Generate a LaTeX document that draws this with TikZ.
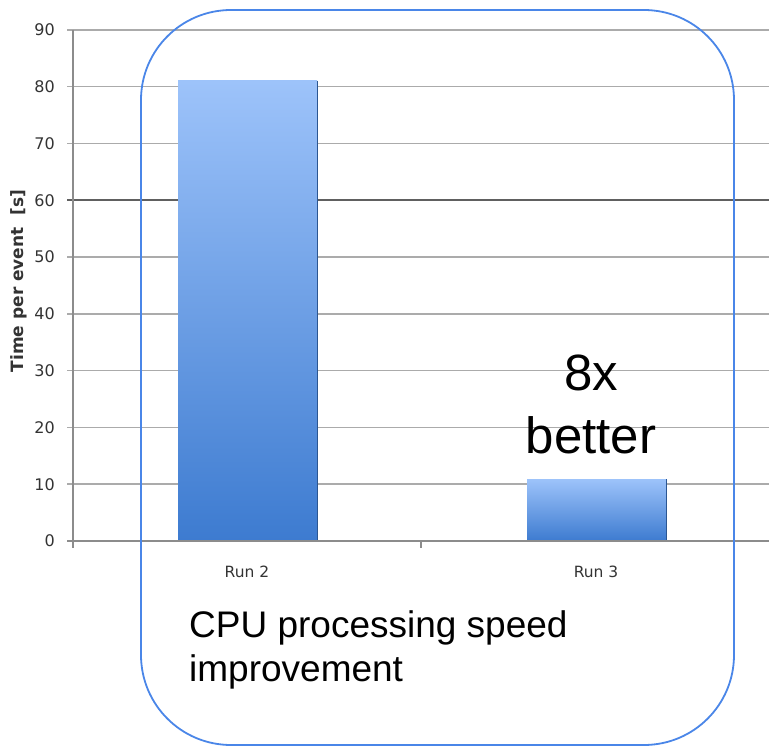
\documentclass[tikz,border=0pt]{standalone}
\usepackage{fontspec}
\setmainfont{Liberation Sans}
\newfontfamily\chartfont{DejaVu Sans}
\definecolor{frameblue}{HTML}{4A86E8}
\definecolor{gridgray}{HTML}{ABABAB}
\definecolor{axisgray}{HTML}{8C8C8C}
\definecolor{bartop}{HTML}{9DC3FA}
\definecolor{barbottom}{HTML}{3D7BD0}
\definecolor{labelgray}{HTML}{333333}
\begin{document}
\begin{tikzpicture}[x=1pt,y=-1pt,
  grid/.style={draw=gridgray,line width=1.6pt},
  axis/.style={draw=axisgray,line width=1.6pt},
  ticklabel/.style={anchor=east,text=labelgray,font=\chartfont\fontsize{16}{18}\selectfont,inner sep=0pt},
  catlabel/.style={anchor=base,text=labelgray,font=\chartfont\fontsize{15.5}{17}\selectfont,inner sep=0pt},
  bigtext/.style={anchor=base,font=\fontsize{51}{60}\selectfont,inner sep=0pt},
  captext/.style={anchor=base west,font=\fontsize{37}{44}\selectfont,inner sep=0pt},
  frame/.style={draw=frameblue,line width=1.8pt,rounded corners=90pt}
]
\useasboundingbox (0,0) rectangle (769,746);
% gridlines
\foreach \v in {1,...,9}{
  \pgfmathsetmacro\yy{541-56.8*\v}
  \draw[grid] (67,\yy) -- (769,\yy);
}
\draw[draw=gray!75!black,line width=1.6pt] (67,{541-56.8*6}) -- (769,{541-56.8*6});
% tick labels
\foreach \v in {0,...,9}{
  \pgfmathsetmacro\yy{541-56.8*\v}
  \node[ticklabel] (t\v) at (55,\yy) {\pgfmathprint{int(10*\v)}};
}
% bars
\shade[top color=bartop,bottom color=barbottom] (178,81) rectangle (317,541);
\draw[barbottom!70!black,line width=0.8pt] (317,81) -- (317,541);
\shade[top color=bartop,bottom color=barbottom] (527,479) rectangle (666,541);
\draw[barbottom!70!black,line width=0.8pt] (666,479) -- (666,541);
% axes
\draw[axis] (67,541) -- (769,541);
\draw[axis] (73,30) -- (73,548);
\draw[axis] (421,541) -- (421,548);
% category labels
\node[catlabel] (r2) at (247,577) {Run 2};
\node[catlabel] (r3) at (596,577) {Run 3};
% y label
\node[rotate=90,text=labelgray,font=\chartfont\bfseries\fontsize{17}{19}\selectfont,inner sep=0pt] (ylab) at (19,281) {Time per event\ \ [s]};
% frame
\draw[frame] (141,10) rectangle (734,745);
% texts
\node[bigtext] (eight) at (591,390) {8x};
\node[bigtext] (better) at (591,453) {better};
\node[captext] (cap1) at (189,637) {CPU processing speed};
\node[captext] (cap2) at (189,681) {improvement};
\end{tikzpicture}
\end{document}
